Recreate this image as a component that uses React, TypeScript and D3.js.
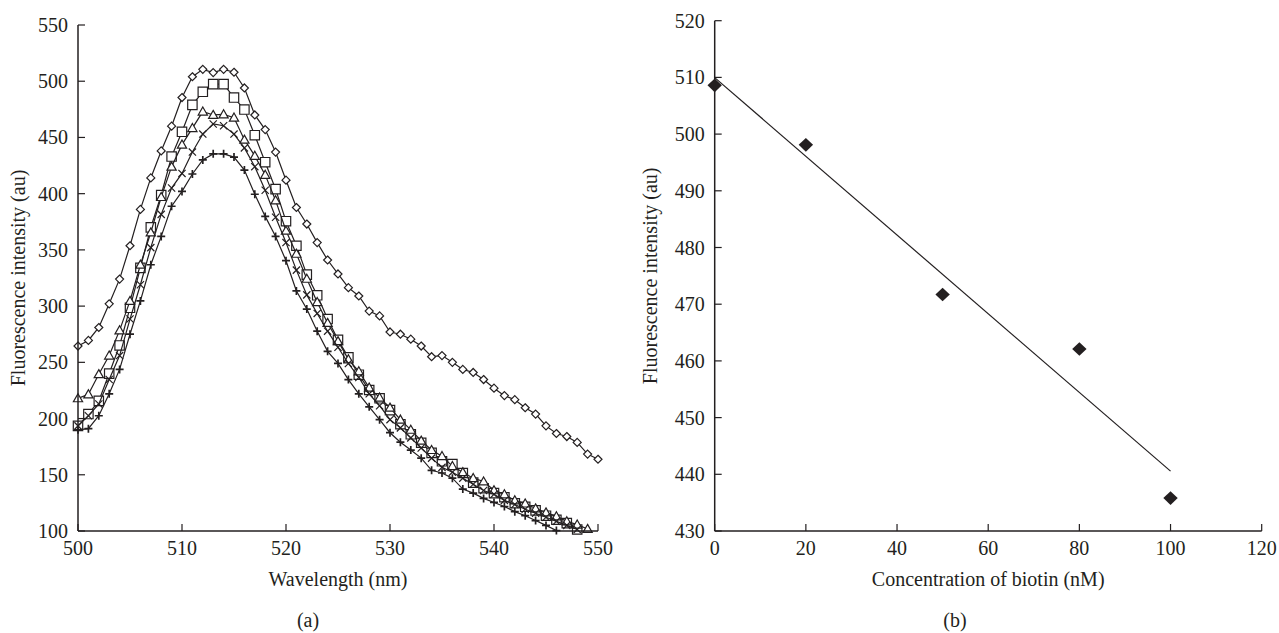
import React from "react";
import * as d3 from "d3";

const wavelengths = [500,501,502,503,504,505,506,507,508,509,510,511,512,513,514,515,516,517,518,519,520,521,522,523,524,525,526,527,528,529,530,531,532,533,534,535,536,537,538,539,540,541,542,543,544,545,546,547,548,549,550];

const s0nM = [264.5,269.5,281,302,324,353.7,386,414,438,460,485.5,504,510.6,507.7,510.6,508,494,470,457,437,412,387.7,373,356.5,341,328.6,316.4,309,295.6,291.3,277,275,270.6,264.5,255,256,250,243.7,241,234.7,227,220.4,216.8,209.6,204,193.5,186.7,184,178.8,168.4,163.8];
const s20nM = [193.5,204,215.7,240,265,298.5,334,370,398.8,433,455,479,490.6,497.4,497.4,485.5,474.8,452,428,404,375.5,353.7,328,309.6,288.5,270,254.4,239,225.4,218,207.5,195,186,178.5,169.5,162,159.5,151.6,143,138,133.7,130,124.7,121.5,118.3,113.6,110,107,101.4];
const s50nM = [218,221.5,239.4,256,278.4,304.6,336.8,365.5,397,424,443.6,458.3,473,470,470.5,467.6,448,433.6,416.7,394,367,346.5,324.3,303.5,285,268.8,252.6,242,227.5,218.6,209.6,199,190,180.3,172,166.6,157.7,152.3,147,144,136.2,132.6,127.2,124.4,120,116.5,113,108.6,105.7,101.8];
const s80nM = [193.5,202.5,213,234.7,256,288.5,319,352,381.6,405,418,437,453,462,460.4,453,440.7,424,403,379,356.5,332,310,293.5,277.7,263.4,249,236.5,222,211.4,199,191.7,182.8,173.8,164.8,156.6,152.3,147,141.6,136,132.6,127.2,123.6,119.3,115.8,112.2,108.6,105,101.4];
const s100nM = [190,191,202.5,222,243.7,275,304.6,336.8,362,388.8,402,417.5,430,435.4,435.4,432.5,421,399.5,379.8,362,340.4,313.5,297.4,277.7,259.8,249,234.7,222,210.4,199,187.4,179,172,164.8,154,151.6,147,137.3,133.7,129,125.4,121.8,117.2,113.6,109.3,105,100.4];

const seriesA = [
  { name: "0 nM", marker: "diamond", values: s0nM },
  { name: "20 nM", marker: "square", values: s20nM },
  { name: "50 nM", marker: "triangle", values: s50nM },
  { name: "80 nM", marker: "cross", values: s80nM },
  { name: "100 nM", marker: "plus", values: s100nM },
];

const xTicksA = [500, 510, 520, 530, 540, 550];
const yTicksA = [100, 150, 200, 250, 300, 350, 400, 450, 500, 550];

const concentrations = [0, 20, 50, 80, 100];
const peakIntensity = [508.6, 498.1, 471.7, 462.1, 435.8];
const xTicksB = [0, 20, 40, 60, 80, 100, 120];
const yTicksB = [430, 440, 450, 460, 470, 480, 490, 500, 510, 520];

const INK = "#231f20";
const FONT = "'Liberation Serif', 'Times New Roman', serif";
const FS = 20;

function markerPath(type: string, x: number, y: number): string {
  switch (type) {
    case "diamond": {
      const r = 4;
      return `M${x},${y - r}L${x + r},${y}L${x},${y + r}L${x - r},${y}Z`;
    }
    case "square": {
      const r = 4.7;
      return `M${x - r},${y - r}H${x + r}V${y + r}H${x - r}Z`;
    }
    case "triangle": {
      const r = 4.6;
      return `M${x},${y - r}L${x + r},${y + r * 0.75}L${x - r},${y + r * 0.75}Z`;
    }
    case "cross": {
      const r = 3.6;
      return `M${x - r},${y - r}L${x + r},${y + r}M${x - r},${y + r}L${x + r},${y - r}`;
    }
    default: {
      const r = 4;
      return `M${x - r},${y}H${x + r}M${x},${y - r}V${y + r}`;
    }
  }
}

function ChartA() {
  const x = d3.scaleLinear().domain([500, 550]).range([78, 598]);
  const y = d3.scaleLinear().domain([100, 550]).range([531, 25]);
  const line = d3.line<number>()
    .x((_, i) => x(wavelengths[i]))
    .y((d) => y(d));
  return (
    <g>
      {seriesA.map((s) => (
        <g key={s.name}>
          <path d={line(s.values) || ""} fill="none" stroke={INK} strokeWidth={1.2} />
          {s.values.map((v, i) => (
            <path
              key={i}
              d={markerPath(s.marker, x(wavelengths[i]), y(v))}
              fill={s.marker === "cross" || s.marker === "plus" ? "none" : "#fff"}
              stroke={INK}
              strokeWidth={s.marker === "plus" ? 1.7 : 1.2}
            />
          ))}
        </g>
      ))}
      <line x1={x(500)} x2={x(550)} y1={y(100)} y2={y(100)} stroke={INK} strokeWidth={1.5} />
      <line x1={x(500)} x2={x(500)} y1={y(100)} y2={y(550)} stroke={INK} strokeWidth={1.5} />
      {yTicksA.map((t) => (
        <g key={"y" + t}>
          <line x1={x(500)} x2={x(500) + 7} y1={y(t)} y2={y(t)} stroke={INK} strokeWidth={1.2} />
          <text x={x(500) - 10} y={y(t)} dy="0.35em" textAnchor="end" fontSize={FS} fontFamily={FONT} fill={INK}>{t}</text>
        </g>
      ))}
      {xTicksA.map((t) => (
        <g key={"x" + t}>
          <line x1={x(t)} x2={x(t)} y1={y(100)} y2={y(100) - 7} stroke={INK} strokeWidth={1.2} />
          <text x={x(t)} y={y(100) + 24} textAnchor="middle" fontSize={FS} fontFamily={FONT} fill={INK}>{t}</text>
        </g>
      ))}
      <text x={(x(500) + x(550)) / 2} y={586} textAnchor="middle" fontSize={FS} fontFamily={FONT} fill={INK}>Wavelength (nm)</text>
      <text transform={`translate(25,${(y(100) + y(550)) / 2}) rotate(-90)`} textAnchor="middle" fontSize={FS} fontFamily={FONT} fill={INK}>Fluorescence intensity (au)</text>
      <text x={308} y={627} textAnchor="middle" fontSize={FS} fontFamily={FONT} fill={INK}>(a)</text>
    </g>
  );
}

function ChartB() {
  const x = d3.scaleLinear().domain([0, 120]).range([714.7, 1261.7]);
  const y = d3.scaleLinear().domain([430, 520]).range([531, 20.7]);
  const mx = d3.mean(concentrations) as number;
  const my = d3.mean(peakIntensity) as number;
  const sxy = d3.sum(concentrations, (c, i) => (c - mx) * (peakIntensity[i] - my));
  const sxx = d3.sum(concentrations, (c) => (c - mx) * (c - mx));
  const slope = sxy / sxx;
  const icpt = my - slope * mx;
  const xmin = d3.min(concentrations) as number;
  const xmax = d3.max(concentrations) as number;
  return (
    <g>
      <line x1={x(xmin)} y1={y(icpt + slope * xmin)} x2={x(xmax)} y2={y(icpt + slope * xmax)} stroke={INK} strokeWidth={1.2} />
      {concentrations.map((c, i) => {
        const cx = x(c), cy = y(peakIntensity[i]);
        const rw = 7.2, rh = 6.8;
        return <path key={i} d={`M${cx},${cy - rh}L${cx + rw},${cy}L${cx},${cy + rh}L${cx - rw},${cy}Z`} fill={INK} />;
      })}
      <line x1={x(0)} x2={x(120)} y1={y(430)} y2={y(430)} stroke={INK} strokeWidth={1.5} />
      <line x1={x(0)} x2={x(0)} y1={y(430)} y2={y(520)} stroke={INK} strokeWidth={1.5} />
      {yTicksB.map((t) => (
        <g key={"y" + t}>
          <line x1={x(0)} x2={x(0) + 7} y1={y(t)} y2={y(t)} stroke={INK} strokeWidth={1.2} />
          <text x={x(0) - 10} y={y(t)} dy="0.35em" textAnchor="end" fontSize={FS} fontFamily={FONT} fill={INK}>{t}</text>
        </g>
      ))}
      {xTicksB.map((t) => (
        <g key={"x" + t}>
          <line x1={x(t)} x2={x(t)} y1={y(430)} y2={y(430) - 7} stroke={INK} strokeWidth={1.2} />
          <text x={x(t)} y={y(430) + 24} textAnchor="middle" fontSize={FS} fontFamily={FONT} fill={INK}>{t}</text>
        </g>
      ))}
      <text x={(x(0) + x(120)) / 2} y={586} textAnchor="middle" fontSize={FS} fontFamily={FONT} fill={INK}>Concentration of biotin (nM)</text>
      <text transform={`translate(657,${(y(430) + y(520)) / 2}) rotate(-90)`} textAnchor="middle" fontSize={FS} fontFamily={FONT} fill={INK}>Fluorescence intensity (au)</text>
      <text x={955} y={627} textAnchor="middle" fontSize={FS} fontFamily={FONT} fill={INK}>(b)</text>
    </g>
  );
}

export default function App() {
  return (
    <svg
      width={1279}
      height={633}
      viewBox="0 0 1279 633"
      style={{ position: "absolute", left: 0, top: 0, display: "block", background: "#fff" }}
    >
      <rect width={1279} height={633} fill="#fff" />
      <ChartA />
      <ChartB />
    </svg>
  );
}
